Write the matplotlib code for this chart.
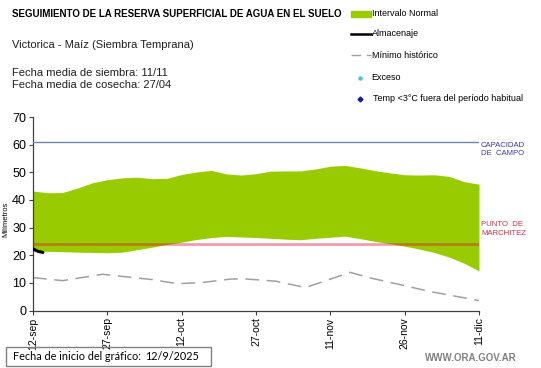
import matplotlib
matplotlib.use("Agg")
import matplotlib.pyplot as plt
from matplotlib.lines import Line2D
from matplotlib.patches import Rectangle

# ---------------- data ----------------
start_label = "12/9/2025"
tick_days = [0, 15, 30, 45, 60, 75, 90]
tick_labels = ["12-sep", "27-sep", "12-oct", "27-oct", "11-nov", "26-nov", "11-dic"]

band_days = [0, 3, 6, 9, 12, 15, 18, 21, 24, 27, 30, 33, 36, 39, 42, 45,
             48, 51, 54, 57, 60, 63, 66, 69, 72, 75, 78, 81, 84, 87, 90]
band_upper = [43.2, 42.6, 42.7, 44.3, 46.2, 47.3, 48.0, 48.2, 47.7, 47.8, 49.2,
              50.1, 50.7, 49.4, 49.0, 49.5, 50.4, 50.5, 50.5, 51.2, 52.2, 52.5,
              51.6, 50.6, 49.8, 49.1, 49.0, 49.1, 48.5, 46.6, 45.7]
band_lower = [21.5, 21.4, 21.3, 21.1, 21.0, 20.9, 21.1, 22.0, 22.9, 23.9, 24.7,
              25.7, 26.4, 26.8, 26.6, 26.4, 26.1, 25.8, 25.6, 26.1, 26.5, 26.9,
              26.0, 25.0, 24.2, 23.3, 22.2, 21.0, 19.3, 17.1, 14.3]

min_days = [0, 6, 14, 24, 29, 34, 40, 43, 49, 55, 64, 68, 74, 80, 90]
min_hist = [11.9, 10.8, 13.1, 11.2, 9.7, 10.1, 11.4, 11.4, 10.6, 8.3, 13.8,
            11.8, 9.4, 6.9, 3.6]

alm_days = [0, 1, 2]
almacenaje = [22.3, 21.4, 21.0]

capacidad_campo = 60.8
punto_marchitez = 24.2

# ---------------- figure ----------------
W, H = 541, 368
fig = plt.figure(figsize=(W / 100, H / 100), dpi=100)
plt.rcParams['font.family'] = ['Liberation Sans', 'DejaVu Sans']

def fx(px):
    return px / W

def fy(py):
    return 1 - py / H

ax = fig.add_axes([fx(33), fy(310.5), fx(479) - fx(33), fy(117) - fy(310.5)])

green = "#99cc00"
ax.fill_between(band_days, band_lower, band_upper, color=green, lw=0, zorder=1)
ax.plot(min_days, min_hist, color="#a0a0a0", lw=1.1, dashes=(9, 5), zorder=2)
ax.plot(alm_days, almacenaje, color="black", lw=2.2, zorder=4, solid_capstyle="round")

ax.axhline(capacidad_campo, color="#7088a8", lw=1.0, zorder=3)
ax.axhline(punto_marchitez, color="#e00830", alpha=0.4, lw=2.0, zorder=3,
           solid_capstyle="butt")

ax.set_xlim(0, 90)
ax.set_ylim(0, 70)
ax.set_yticks(range(0, 71, 10))
ax.set_xticks(tick_days)
ax.set_xticklabels(tick_labels, rotation=90, fontsize=7.5)
ax.tick_params(axis="y", labelsize=9, length=3, width=0.8, color="#404040", pad=2)
ax.tick_params(axis="x", length=3, width=0.8, color="#404040", pad=2)
for s in ["top", "right"]:
    ax.spines[s].set_visible(False)
for s in ["left", "bottom"]:
    ax.spines[s].set_color("#404040")
    ax.spines[s].set_linewidth(0.9)

ax.text(-0.06, 0.47, "Milímetros", transform=ax.transAxes, rotation=90,
        fontsize=5.5, ha="center", va="center")

# right side labels
fig.text(fx(481), fy(149.5), "CAPACIDAD\nDE  CAMPO", color="#3838a8", fontsize=5.6,
         ha="left", va="center", linespacing=1.25)
fig.text(fx(481), fy(229), "PUNTO  DE\nMARCHITEZ", color="#c83040", fontsize=5.6,
         ha="left", va="center", linespacing=1.25)

# header texts
fig.text(fx(12), fy(14), "SEGUIMIENTO DE LA RESERVA SUPERFICIAL DE AGUA EN EL SUELO",
         fontsize=7.0, fontweight="bold", ha="left", va="center")
fig.text(fx(12), fy(45), "Victorica - Maíz (Siembra Temprana)", fontsize=8.0,
         ha="left", va="center", color="#202020")
fig.text(fx(12), fy(72.5), "Fecha media de siembra: 11/11", fontsize=8.0,
         ha="left", va="center", color="#202020")
fig.text(fx(12), fy(84.5), "Fecha media de cosecha: 27/04", fontsize=8.0,
         ha="left", va="center", color="#202020")

# legend (manual)
lfs = 6.5
fig.add_artist(Rectangle((fx(351), fy(16.5)), fx(371) - fx(351), fy(11.5) - fy(16.5),
                         color=green, transform=fig.transFigure))
fig.text(fx(372), fy(14), "Intervalo Normal", fontsize=lfs, va="center", ha="left")
fig.add_artist(Line2D([fx(351), fx(371)], [fy(33.5), fy(33.5)], color="black", lw=1.8,
                      transform=fig.transFigure))
fig.text(fx(372), fy(34), "Almacenaje", fontsize=lfs, va="center", ha="left")
fig.add_artist(Line2D([fx(351), fx(371)], [fy(55), fy(55)], color="#a0a0a0", lw=1.0,
                      dashes=(7, 4), transform=fig.transFigure))
fig.text(fx(372), fy(55), "Mínimo histórico", fontsize=lfs, va="center", ha="left")
fig.add_artist(Line2D([fx(360)], [fy(77.5)], marker="o", ms=2.2, color="#40c8d8",
                      lw=0, transform=fig.transFigure))
fig.text(fx(371), fy(77), "Exceso", fontsize=lfs, va="center", ha="left")
fig.add_artist(Line2D([fx(360)], [fy(99)], marker="D", ms=2.5, color="#1020a0",
                      lw=0, transform=fig.transFigure))
fig.text(fx(373), fy(98.5), "Temp <3°C fuera del período habitual", fontsize=lfs,
         va="center", ha="left")

# bottom box
fig.add_artist(Rectangle((fx(6), fy(366)), fx(211) - fx(6), fy(347) - fy(366),
                         fill=False, edgecolor="#808080", lw=1.0,
                         transform=fig.transFigure))
fig.text(fx(13), fy(356.5), "Fecha de inicio del gráfico:", fontsize=7.8,
         family=["Lato", "DejaVu Sans"], va="center", ha="left")
fig.text(fx(145), fy(356.5), start_label, fontsize=7.8,
         family=["Lato", "DejaVu Sans"], va="center", ha="left")
fig.text(fx(517), fy(358), "WWW.ORA.GOV.AR", fontsize=7.0, fontweight="bold",
         color="#808080", va="center", ha="right")

fig.savefig("out.png", dpi=100)
